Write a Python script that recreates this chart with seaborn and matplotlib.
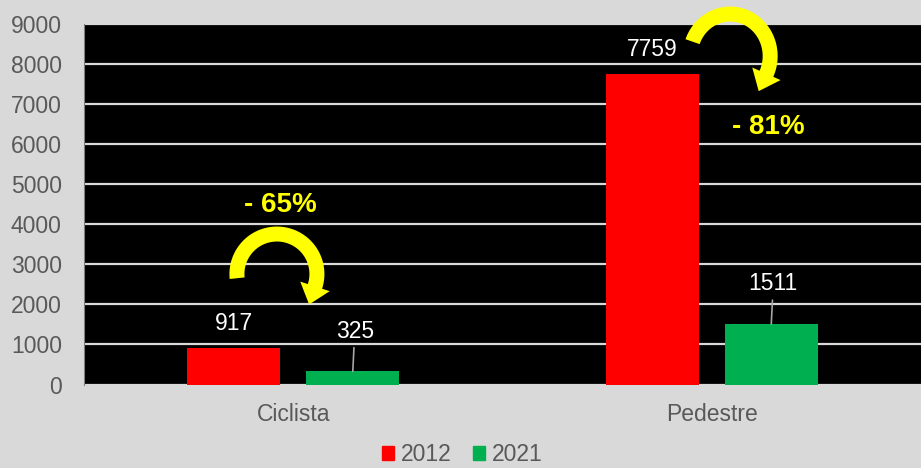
import numpy as np
import pandas as pd
import matplotlib.pyplot as plt
import matplotlib.transforms as mtransforms
import seaborn as sns
from matplotlib.patches import Polygon

# chart values
categories = ['Ciclista', 'Pedestre']
years = ['2012', '2021']
values_2012 = [917, 7759]
values_2021 = [325, 1511]

df = pd.DataFrame({
    'categoria': categories * 2,
    'ano': [years[0]] * 2 + [years[1]] * 2,
    'valor': values_2012 + values_2021,
})

colors = {'2012': '#ff0000', '2021': '#00b050'}
bg = '#d9d9d9'
txt = '#595959'
fs = 16.5

sns.set_style('white')
plt.rcParams['font.family'] = ['Liberation Sans', 'DejaVu Sans']

fig = plt.figure(figsize=(9.21, 4.68), dpi=100, facecolor=bg)
ax = fig.add_axes([84 / 921, 1 - 384.5 / 468, 1 - 84 / 921, 360.5 / 468])

sns.barplot(data=df, x='categoria', y='valor', hue='ano', palette=colors,
            width=0.569, gap=0.218, saturation=1, linewidth=0, ax=ax, legend=False)

ax.set_facecolor('black')
ax.set_ylim(0, 9000)
ax.set_yticks(range(0, 9001, 1000))
ax.yaxis.grid(True, color=bg, linewidth=1.6)
ax.set_axisbelow(True)
ax.set_xlabel('')
ax.set_ylabel('')
for s in ['top', 'right', 'bottom']:
    ax.spines[s].set_visible(False)
ax.spines['left'].set_color('#7f7f7f')
ax.spines['left'].set_linewidth(0.8)
ax.tick_params(axis='y', length=0, pad=16, labelsize=fs, labelcolor=txt)
ax.tick_params(axis='x', length=0, pad=13, labelsize=fs, labelcolor=txt)

# value labels (2021 ones sit higher with a leader line)
for i, cont in enumerate(ax.containers):
    for bar in cont:
        h = bar.get_height()
        xc = bar.get_x() + bar.get_width() / 2
        if i == 0:
            ax.annotate(f'{h:.0f}', (xc, h), xytext=(0, 24), textcoords='offset pixels',
                        ha='center', va='center', color='white', fontsize=fs)
        else:
            ax.annotate(f'{h:.0f}', (xc, h), xytext=(2, 40), textcoords='offset pixels',
                        ha='center', va='center', color='white', fontsize=fs,
                        arrowprops=dict(arrowstyle='-', color='#a6a6a6', lw=1.2,
                                        shrinkA=1, shrinkB=0))


def curved_arrow(cx, cy, rx, ry, t1, t2, w=15, hw=31, hl=19):
    # thick clockwise arc with a head, drawn in pixels around a data point
    t = np.radians(np.linspace(t1, t2, 60))
    px, py = rx * np.cos(t), ry * np.sin(t)
    tx, ty = -rx * np.sin(t), ry * np.cos(t)
    n = np.hypot(tx, ty)
    tx, ty = -tx / n, -ty / n          # clockwise direction
    nx, ny = -ty, tx                   # left normal
    outer = np.c_[px - nx * w / 2, py - ny * w / 2]
    inner = np.c_[px + nx * w / 2, py + ny * w / 2]
    ex, ey, dx, dy, mx, my = px[-1], py[-1], tx[-1], ty[-1], nx[-1], ny[-1]
    head = [(ex - mx * hw / 2, ey - my * hw / 2),
            (ex + dx * hl, ey + dy * hl),
            (ex + mx * hw / 2, ey + my * hw / 2)]
    pts = np.vstack([outer, head, inner[::-1]]) / 100.0
    tr = fig.dpi_scale_trans + mtransforms.ScaledTranslation(cx, cy, ax.transData)
    ax.add_patch(Polygon(pts, closed=True, transform=tr, color='#ffff00',
                         clip_on=False, zorder=5, lw=0))


curved_arrow(-0.039, 2758, 40, 40, 186, -18)
curved_arrow(1.044, 8200, 40, 42, 160, -25)

pct = [round((1 - b / a) * 100) for a, b in zip(values_2012, values_2021)]
ax.text(-0.031, 4481, f'- {pct[0]}%', ha='center', va='center', color='#ffff00',
        fontsize=20, fontweight='bold')
ax.text(1.134, 6428, f'- {pct[1]}%', ha='center', va='center', color='#ffff00',
        fontsize=20, fontweight='bold')

handles = [plt.Rectangle((0, 0), 1, 1, color=colors[y]) for y in years]
fig.legend(handles, years, loc='lower center', bbox_to_anchor=(0.502, -0.04), ncol=2,
           frameon=False, fontsize=fs, labelcolor=txt, handlelength=0.52,
           handleheight=0.52, handletextpad=0.3, columnspacing=0.9)

plt.savefig('out.png', dpi=100, facecolor=bg)
